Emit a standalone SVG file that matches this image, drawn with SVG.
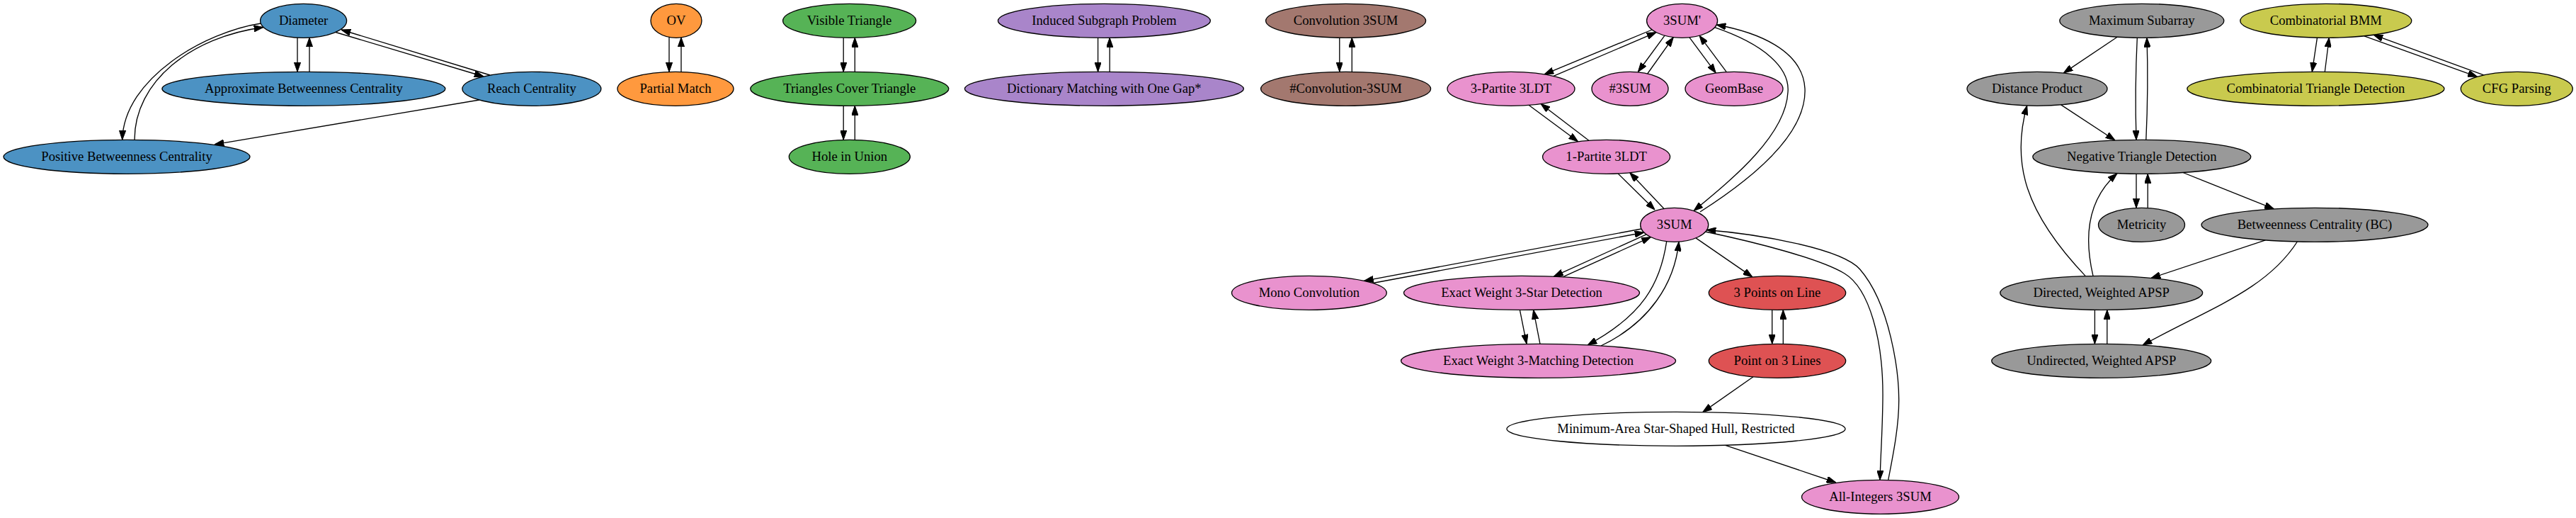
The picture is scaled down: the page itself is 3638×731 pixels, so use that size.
<svg xmlns="http://www.w3.org/2000/svg" width="3638" height="731" viewBox="0 0 3638 731">
<style>
.node ellipse{stroke:#000;stroke-width:1.33}
.node text{font-family:"Liberation Serif","Times New Roman",serif;font-size:18.67px;text-anchor:middle;fill:#000}
.blue{fill:#4c92c3}.orange{fill:#ff993e}.green{fill:#56b356}.purple{fill:#a985ca}.brown{fill:#a3786f}
.pink{fill:#e992ce}.red{fill:#de5253}.white{fill:#fff}.gray{fill:#999999}.olive{fill:#c9ca4e}
#edges path{fill:none;stroke:#000;stroke-width:1.33;marker-end:url(#ah)}
</style>
<defs>
<marker id="ah" viewBox="0 0 13.33 9.33" refX="13.33" refY="4.67" markerWidth="13.33" markerHeight="9.33" markerUnits="userSpaceOnUse" orient="auto">
<path d="M0,0 L13.33,4.67 L0,9.33 z" fill="#000" stroke="#000" stroke-width="1"/>
</marker>
</defs>
<rect width="3638" height="731" fill="#fff"/>
<g id="edges">
<path d="M420,53.1 L420,101.3"/>
<path d="M437,101.3 L437,53.1"/>
<path d="M474,45.5 L683,108"/>
<path d="M692,106 L482,42"/>
<path d="M368.5,33 C290,45 175,110 172.7,197.3"/>
<path d="M190,197.3 C190,115 270,52 372,38.5"/>
<path d="M677,141 L303,203.8"/>
<path d="M945,52.4 L945,101.4"/>
<path d="M962,101.4 L962,52.8"/>
<path d="M1191.2,53.2 L1191.2,101.3"/>
<path d="M1207.3,101.3 L1207.3,53.2"/>
<path d="M1191.2,149.3 L1191.2,197.3"/>
<path d="M1207.3,197.3 L1207.3,149.3"/>
<path d="M1550.6,53.3 L1550.6,101.3"/>
<path d="M1567.2,101.3 L1567.2,53.3"/>
<path d="M1891.8,53.3 L1891.8,101.3"/>
<path d="M1909.3,101.3 L1909.3,53.3"/>
<path d="M2333,42 L2181,104.8"/>
<path d="M2194,107.4 L2339,45.7"/>
<path d="M2351,50.2 L2313.3,101.5"/>
<path d="M2326.7,104 L2363.3,52.6"/>
<path d="M2386,52.8 L2423.3,103.1"/>
<path d="M2438.3,101.6 L2400,50.2"/>
<path d="M2421.5,38.7 C2490,62 2528,95 2525,130 C2522,190 2450,250 2392,297.5"/>
<path d="M2401,299 C2470,255 2552,190 2549,125 C2546,70 2480,45 2424,35"/>
<path d="M2159,148.3 L2228.6,199.8"/>
<path d="M2243.8,198.2 L2176,146.5"/>
<path d="M2285,244.9 L2337,296"/>
<path d="M2350,294.5 L2301.7,243.6"/>
<path d="M2318,323 L1926.4,396.4"/>
<path d="M1939,399.5 L2322,328"/>
<path d="M2325,330.8 L2194.3,390.2"/>
<path d="M2207,390.8 L2331.4,334.6"/>
<path d="M2146.4,437.3 L2156,485.3"/>
<path d="M2175,485.3 L2165.6,437.3"/>
<path d="M2353.7,340.7 C2345,400 2320,445 2242,487"/>
<path d="M2261,488 C2330,455 2365,400 2371,341.1"/>
<path d="M2395,335.9 L2474.9,390.9"/>
<path d="M2502.7,437.3 L2502.7,485.3"/>
<path d="M2518.3,485.3 L2518.3,437.3"/>
<path d="M2476,531.8 L2404.7,581.6"/>
<path d="M2436.6,628.3 L2593,681"/>
<path d="M2408.6,327 C2480,342 2570,365 2605,386 C2640,407 2660,480 2659,563 C2658.5,610 2656,640 2655,677.3"/>
<path d="M2666.7,677.4 C2674,640 2682,600 2681.7,563 C2681.5,526 2670,430 2626.7,380 C2600,350 2480,330 2410,324.5"/>
<path d="M2990.1,52.2 L2914.2,103.1"/>
<path d="M3018.3,53.3 C3016,100 3015.5,150 3017,197.4"/>
<path d="M3030.8,197.4 C3033,150 3033.5,100 3032,53.3"/>
<path d="M2910.6,147.9 L2987,198"/>
<path d="M3017,245.3 L3017,293.5"/>
<path d="M3033.2,293.5 L3033.2,245.3"/>
<path d="M3082.9,243.5 L3211.5,294.9"/>
<path d="M3199.5,338.9 L3038,392.4"/>
<path d="M3244.4,341 C3200,410 3120,435 3026,487.1"/>
<path d="M2945.3,389.6 C2860,300 2840,230 2862.7,149"/>
<path d="M2956,389.4 C2942,330 2950,280 2990,244.7"/>
<path d="M2958.4,437.3 L2958.4,485.3"/>
<path d="M2975.8,485.3 L2975.8,437.3"/>
<path d="M3272.5,53.2 L3265.3,101.3"/>
<path d="M3283.3,101.4 L3289.3,53.3"/>
<path d="M3338.9,50.8 L3498.6,108.3"/>
<path d="M3507.6,105.9 L3352.1,49.2"/>
</g>
<g id="n_diameter" class="node"><ellipse class="blue" cx="428.6" cy="29.3" rx="61" ry="24"/><text x="428.6" y="34.9">Diameter</text></g>
<g id="n_abc" class="node"><ellipse class="blue" cx="428.9" cy="125.3" rx="200" ry="24"/><text x="428.9" y="130.9">Approximate Betweenness Centrality</text></g>
<g id="n_reach" class="node"><ellipse class="blue" cx="750.9" cy="125.3" rx="98" ry="24"/><text x="750.9" y="130.9">Reach Centrality</text></g>
<g id="n_pbc" class="node"><ellipse class="blue" cx="179" cy="221.3" rx="174" ry="24"/><text x="179" y="226.9">Positive Betweenness Centrality</text></g>
<g id="n_ov" class="node"><ellipse class="orange" cx="955" cy="29.3" rx="36" ry="24"/><text x="955" y="34.9">OV</text></g>
<g id="n_pm" class="node"><ellipse class="orange" cx="954" cy="125.3" rx="82" ry="24"/><text x="954" y="130.9">Partial Match</text></g>
<g id="n_vt" class="node"><ellipse class="green" cx="1199.6" cy="29.3" rx="94" ry="24"/><text x="1199.6" y="34.9">Visible Triangle</text></g>
<g id="n_tct" class="node"><ellipse class="green" cx="1199.8" cy="125.3" rx="140" ry="24"/><text x="1199.8" y="130.9">Triangles Cover Triangle</text></g>
<g id="n_hiu" class="node"><ellipse class="green" cx="1199.8" cy="221.3" rx="85.5" ry="24"/><text x="1199.8" y="226.9">Hole in Union</text></g>
<g id="n_isp" class="node"><ellipse class="purple" cx="1559.4" cy="29.3" rx="150" ry="24"/><text x="1559.4" y="34.9">Induced Subgraph Problem</text></g>
<g id="n_dm" class="node"><ellipse class="purple" cx="1559.4" cy="125.3" rx="197" ry="24"/><text x="1559.4" y="130.9">Dictionary Matching with One Gap*</text></g>
<g id="n_conv" class="node"><ellipse class="brown" cx="1900.6" cy="29.3" rx="113" ry="24"/><text x="1900.6" y="34.9">Convolution 3SUM</text></g>
<g id="n_hconv" class="node"><ellipse class="brown" cx="1900.6" cy="125.3" rx="120" ry="24"/><text x="1900.6" y="130.9">#Convolution-3SUM</text></g>
<g id="n_3sump" class="node"><ellipse class="pink" cx="2375.6" cy="29.3" rx="50" ry="24"/><text x="2375.6" y="34.9">3SUM'</text></g>
<g id="n_3p3ldt" class="node"><ellipse class="pink" cx="2134" cy="125.3" rx="90" ry="24"/><text x="2134" y="130.9">3-Partite 3LDT</text></g>
<g id="n_h3sum" class="node"><ellipse class="pink" cx="2302" cy="125.3" rx="54" ry="24"/><text x="2302" y="130.9">#3SUM</text></g>
<g id="n_geombase" class="node"><ellipse class="pink" cx="2449" cy="125.3" rx="69" ry="24"/><text x="2449" y="130.9">GeomBase</text></g>
<g id="n_1p3ldt" class="node"><ellipse class="pink" cx="2268.6" cy="221.3" rx="90" ry="24"/><text x="2268.6" y="226.9">1-Partite 3LDT</text></g>
<g id="n_3sum" class="node"><ellipse class="pink" cx="2364.7" cy="317.3" rx="48" ry="24"/><text x="2364.7" y="322.9">3SUM</text></g>
<g id="n_mono" class="node"><ellipse class="pink" cx="1848.9" cy="413.3" rx="109.4" ry="24"/><text x="1848.9" y="418.9">Mono Convolution</text></g>
<g id="n_star" class="node"><ellipse class="pink" cx="2149" cy="413.3" rx="166.5" ry="24"/><text x="2149" y="418.9">Exact Weight 3-Star Detection</text></g>
<g id="n_match" class="node"><ellipse class="pink" cx="2172.6" cy="509.3" rx="194" ry="24"/><text x="2172.6" y="514.9">Exact Weight 3-Matching Detection</text></g>
<g id="n_allint" class="node"><ellipse class="pink" cx="2655.5" cy="701.3" rx="111" ry="24"/><text x="2655.5" y="706.9">All-Integers 3SUM</text></g>
<g id="n_3pts" class="node"><ellipse class="red" cx="2510" cy="413.3" rx="96.7" ry="24"/><text x="2510" y="418.9">3 Points on Line</text></g>
<g id="n_pt3" class="node"><ellipse class="red" cx="2510" cy="509.3" rx="96.7" ry="24"/><text x="2510" y="514.9">Point on 3 Lines</text></g>
<g id="n_mash" class="node"><ellipse class="white" cx="2367" cy="605.3" rx="239" ry="24"/><text x="2367" y="610.9">Minimum-Area Star-Shaped Hull, Restricted</text></g>
<g id="n_maxsub" class="node"><ellipse class="gray" cx="3024.8" cy="29.3" rx="116" ry="24"/><text x="3024.8" y="34.9">Maximum Subarray</text></g>
<g id="n_dp" class="node"><ellipse class="gray" cx="2877" cy="125.3" rx="99" ry="24"/><text x="2877" y="130.9">Distance Product</text></g>
<g id="n_ntd" class="node"><ellipse class="gray" cx="3024.8" cy="221.3" rx="154" ry="24"/><text x="3024.8" y="226.9">Negative Triangle Detection</text></g>
<g id="n_metric" class="node"><ellipse class="gray" cx="3024.5" cy="317.3" rx="61" ry="24"/><text x="3024.5" y="322.9">Metricity</text></g>
<g id="n_bc" class="node"><ellipse class="gray" cx="3269" cy="317.3" rx="160" ry="24"/><text x="3269" y="322.9">Betweenness Centrality (BC)</text></g>
<g id="n_dapsp" class="node"><ellipse class="gray" cx="2967.7" cy="413.3" rx="143" ry="24"/><text x="2967.7" y="418.9">Directed, Weighted APSP</text></g>
<g id="n_uapsp" class="node"><ellipse class="gray" cx="2967.7" cy="509.3" rx="155" ry="24"/><text x="2967.7" y="514.9">Undirected, Weighted APSP</text></g>
<g id="n_cbmm" class="node"><ellipse class="olive" cx="3284.8" cy="29.3" rx="121" ry="24"/><text x="3284.8" y="34.9">Combinatorial BMM</text></g>
<g id="n_ctd" class="node"><ellipse class="olive" cx="3270.4" cy="125.3" rx="181.6" ry="24"/><text x="3270.4" y="130.9">Combinatorial Triangle Detection</text></g>
<g id="n_cfg" class="node"><ellipse class="olive" cx="3554.3" cy="125.3" rx="79" ry="24"/><text x="3554.3" y="130.9">CFG Parsing</text></g>
</svg>
